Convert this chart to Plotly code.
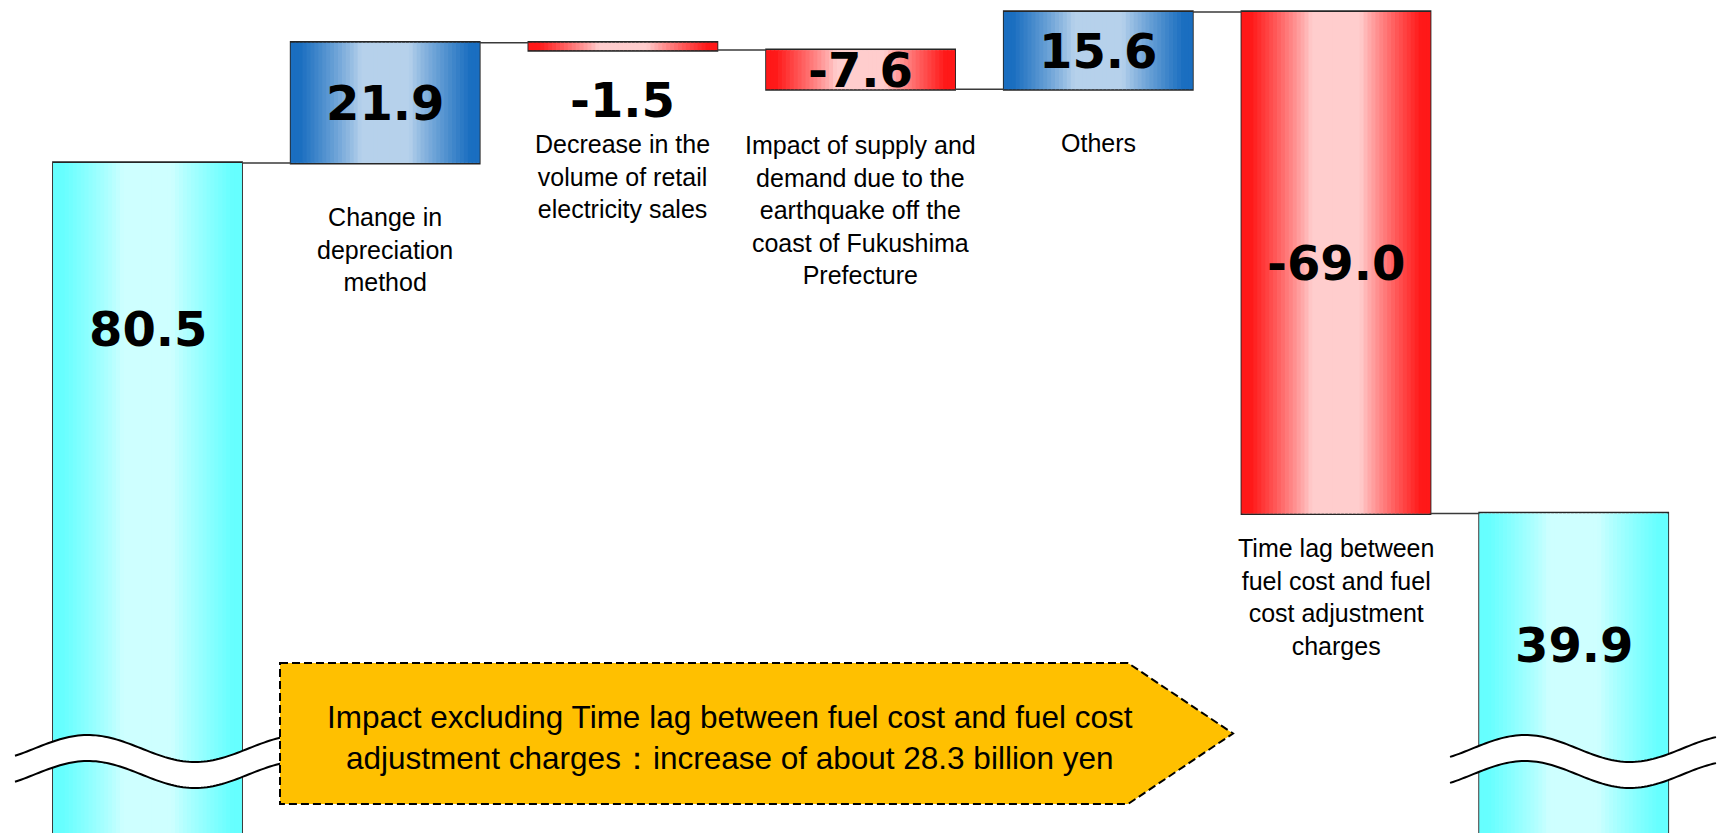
import numpy as np
import plotly.graph_objects as go

# ---------------- data ----------------
categories = [
    "",
    "Change in<br>depreciation<br>method",
    "Decrease in the<br>volume of retail<br>electricity sales",
    "Impact of supply and<br>demand due to the<br>earthquake off the<br>coast of Fukushima<br>Prefecture",
    "Others",
    "Time lag between<br>fuel cost and fuel<br>cost adjustment<br>charges",
    "",
]
values = [80.5, 21.9, -1.5, -7.6, 15.6, -69.0, 39.9]
measures = ["absolute", "relative", "relative", "relative", "relative", "relative", "total"]
value_labels = ["80.5", "21.9", "-1.5", "-7.6", "15.6", "-69.0", "39.9"]
note_text = ("Impact excluding Time lag between fuel cost and fuel cost<br>"
             "adjustment charges：increase of about 28.3 billion yen")

# ---------------- layout constants ----------------
W, H = 1717, 833
BAR_W = 0.795
X0_PX, STEP_PX = 147.5, 237.7          # centre of first bar, bar spacing (px)
TOP_PX, PX_PER_DEC = 12, 1150          # vertical scale (log axis)

def px2paper(x, y):
    return x / W, 1 - y / H

# cumulative starts / ends from the values
starts, ends, kinds = [], [], []
run = 0.0
for v, m in zip(values, measures):
    if m == "absolute":
        s, e = 0.0, v
        run = v
        kinds.append("total")
    elif m == "relative":
        s, e = run, run + v
        run += v
        kinds.append("up" if v > 0 else "down")
    else:
        s, e = 0.0, run
        kinds.append("total")
    starts.append(s)
    ends.append(e)
starts = np.array(starts)
ends = np.array(ends)
xs = list(range(len(values)))

# colours of the horizontal gradients (edge, centre)
pal = {
    "total": ((102, 255, 255), (206, 255, 255)),
    "up": ((26, 110, 192), (182, 209, 235)),
    "down": ((255, 24, 24), (255, 205, 205)),
}

def grad_color(kind, t):
    edge, centre = pal[kind]
    d = abs(t - 0.5) * 2
    m = float(np.clip((d - 0.26) / 0.64, 0, 1)) ** 0.85
    c = [int(round(centre[i] + (edge[i] - centre[i]) * m)) for i in range(3)]
    return "rgb(%d,%d,%d)" % tuple(c)

fig = go.Figure()

N = 48
ws = BAR_W / N
for i in range(N):
    t = (i + 0.5) / N
    width = ws if i == N - 1 else ws * 1.3
    fig.add_trace(go.Bar(
        x=xs,
        y=list(ends - starts),
        base=list(starts),
        width=[width] * len(xs),
        offset=[-BAR_W / 2 + i * ws] * len(xs),
        marker=dict(color=[grad_color(k, t) for k in kinds], line=dict(width=0)),
        hoverinfo="skip",
        showlegend=False,
    ))

clear = "rgba(0,0,0,0)"
outline = dict(color="#262626", width=1.8)
fig.add_trace(go.Waterfall(
    x=xs,
    y=values,
    measure=measures,
    width=[BAR_W] * len(xs),
    textinfo="none",
    increasing=dict(marker=dict(color=clear, line=outline)),
    decreasing=dict(marker=dict(color=clear, line=outline)),
    totals=dict(marker=dict(color=clear, line=outline)),
    connector=dict(mode="between", line=dict(color="#3a3a3a", width=1.5)),
    hoverinfo="skip",
    showlegend=False,
))

# ---------------- annotations ----------------
annotations = []
value_font = dict(family="DejaVu Sans", size=48, color="black", weight="bold")
label_font = dict(family="Liberation Sans, Arial", size=25, color="black")

inside = {1, 3, 4, 5}
value_px = {0: 329, 2: 100, 6: 645}
for i, txt in enumerate(value_labels):
    if i in inside:
        ymid = (np.log10(starts[i]) + np.log10(ends[i])) / 2
        annotations.append(dict(x=xs[i], y=ymid, xref="x", yref="y", text=txt,
                                showarrow=False, font=value_font,
                                xanchor="center", yanchor="middle"))
    else:
        annotations.append(dict(x=xs[i], y=1 - value_px[i] / H, xref="x", yref="paper",
                                text=txt, showarrow=False, font=value_font,
                                xanchor="center", yanchor="middle"))

label_px = {1: 250, 2: 177, 3: 210, 4: 143, 5: 597}
for i, txt in enumerate(categories):
    if not txt:
        continue
    annotations.append(dict(x=xs[i], y=1 - label_px[i] / H, xref="x", yref="paper",
                            text=txt, showarrow=False, font=label_font, align="center",
                            xanchor="center", yanchor="middle"))

bx, by = px2paper(730, 737.5)
annotations.append(dict(x=bx, y=by, xref="paper", yref="paper", text=note_text,
                        showarrow=False, align="center",
                        font=dict(family="Liberation Sans, Arial", size=31.5, color="black"),
                        xanchor="center", yanchor="middle"))

# ---------------- shapes: axis-break waves and note arrow ----------------
shapes = []

def wave_pts(xa, xb, xpeak, half, yc=748.5, amp=13.5, off=0.0):
    xx = np.linspace(xa, xb, 90)
    yy = yc - amp * np.cos(np.pi * (xx - xpeak) / half) + off
    return xx, yy

def path_from(xx, yy, close=False):
    parts = []
    for j, (a, b) in enumerate(zip(xx, yy)):
        px, py = px2paper(a, b)
        parts.append(("M" if j == 0 else "L") + "%.5f,%.5f" % (px, py))
    return " ".join(parts) + (" Z" if close else "")

for (xa, xb, xpeak, half) in [(15, 282, 88, 107), (1450, 1716, 1525, 105)]:
    tx, ty = wave_pts(xa, xb, xpeak, half)
    bx2, by2 = wave_pts(xa, xb, xpeak, half, off=26)
    fx = np.concatenate([tx, bx2[::-1]])
    fy = np.concatenate([ty, by2[::-1]])
    shapes.append(dict(type="path", xref="paper", yref="paper", path=path_from(fx, fy, True),
                       fillcolor="white", line=dict(width=0), layer="above"))
    shapes.append(dict(type="path", xref="paper", yref="paper", path=path_from(tx, ty),
                       line=dict(color="black", width=2), layer="above"))
    shapes.append(dict(type="path", xref="paper", yref="paper", path=path_from(bx2, by2),
                       line=dict(color="black", width=2), layer="above"))

poly = [(280, 663), (1128, 663), (1233, 733.5), (1128, 804), (280, 804)]
pp = [px2paper(a, b) for a, b in poly]
box_path = "M" + " L".join("%.5f,%.5f" % p for p in pp) + " Z"
shapes.append(dict(type="path", xref="paper", yref="paper", path=box_path,
                   fillcolor="#FFC000", line=dict(color="black", width=2, dash="8px,4px"),
                   layer="above"))

# ---------------- axes ----------------
xr0 = -X0_PX / STEP_PX
xr1 = xr0 + W / STEP_PX
ytop = np.log10(ends.max()) + TOP_PX / PX_PER_DEC
ybot = ytop - H / PX_PER_DEC

fig.update_layout(
    width=W, height=H,
    margin=dict(l=0, r=0, t=0, b=0),
    paper_bgcolor="white", plot_bgcolor="white",
    barmode="overlay", waterfallmode="overlay",
    showlegend=False,
    xaxis=dict(range=[xr0, xr1], visible=False, fixedrange=True),
    yaxis=dict(type="log", range=[ybot, ytop], visible=False, fixedrange=True),
    annotations=annotations,
    shapes=shapes,
)

fig.write_html("out.html",
               config={"displayModeBar": False},
               post_script="document.body.style.margin='0';document.body.style.overflow='hidden';")
